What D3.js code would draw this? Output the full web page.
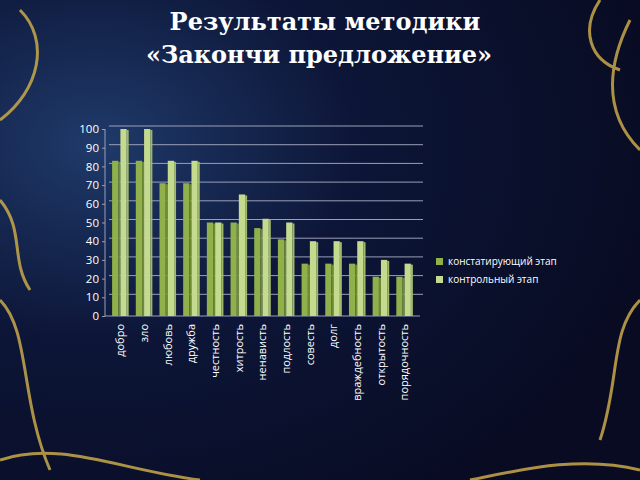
<!DOCTYPE html>
<html><head><meta charset="utf-8">
<script src="https://cdn.jsdelivr.net/npm/d3@7"></script>
<style>body{margin:0;background:#0b1030}</style>
</head><body>
<script>
const categories = ["добро","зло","любовь","дружба","честность","хитрость","ненависть","подлость","совесть","долг","враждебность","открытость","порядочность"];
const stage1 = [83,83,71,71,50,50,47,41,28,28,28,21,21];
const stage2 = [100,100,83,83,50,65,52,50,40,40,40,30,28];
const seriesNames = ["констатирующий этап","контрольный этап"];
const yTicks = [0,10,20,30,40,50,60,70,80,90,100];

const W = 640, H = 480;
const svg = d3.select("body").append("svg").attr("width", W).attr("height", H);
const defs = svg.append("defs");
const bg = defs.append("radialGradient").attr("id","bg").attr("cx","0.15").attr("cy","0.3").attr("r","0.9");
bg.append("stop").attr("offset","0").attr("stop-color","#1f3a6a");
bg.append("stop").attr("offset","0.45").attr("stop-color","#0d1638");
bg.append("stop").attr("offset","1").attr("stop-color","#080b22");
svg.append("rect").attr("width",W).attr("height",H).attr("fill","url(#bg)");

// gold ornaments (rough)
const gold = svg.append("g").attr("fill","none").attr("stroke","#c9a94a").attr("stroke-width",3).attr("opacity",0.85);
gold.append("path").attr("d","M0,120 C40,90 50,40 20,10 M0,300 C30,330 20,400 50,470 M0,200 C25,230 10,260 30,290");
gold.append("path").attr("d","M640,150 C600,110 610,60 630,20 M640,300 C610,330 620,380 600,440 M600,0 C580,30 590,60 620,70");
gold.append("path").attr("d","M0,460 C60,440 120,470 200,480 M640,470 C580,455 520,470 470,480");

svg.append("text").attr("x",325).attr("y",30).attr("text-anchor","middle")
  .attr("font-family","DejaVu Serif").attr("font-weight","bold").attr("font-size",24).attr("fill","#fff")
  .text("Результаты методики");
svg.append("text").attr("x",319).attr("y",63).attr("text-anchor","middle")
  .attr("font-family","DejaVu Serif").attr("font-weight","bold").attr("font-size",24).attr("fill","#fff")
  .text("«Закончи предложение»");

const x0 = 105, x1 = 420;
const x = d3.scaleBand().domain(categories).range([x0, x1]).paddingInner(0.3).paddingOuter(0.3);
const y = d3.scaleLinear().domain([0,100]).range([316,129]);

const grid = svg.append("g");
grid.selectAll("line").data(yTicks.slice(1)).join("line")
  .attr("x1",x0+4).attr("x2",x1+3).attr("y1",d=>y(d)-3).attr("y2",d=>y(d)-3)
  .attr("stroke","#9a9fb8").attr("stroke-width",1);
svg.append("line").attr("x1",x0).attr("x2",x1).attr("y1",y(0)).attr("y2",y(0)).attr("stroke","#9a9fb8");
svg.append("line").attr("x1",x0).attr("x2",x0).attr("y1",y(100)).attr("y2",y(0)).attr("stroke","#9a9fb8");

const yAxis = d3.axisLeft(y).tickValues(yTicks).tickSize(3);
const ya = svg.append("g").attr("transform",`translate(${x0},0)`).call(yAxis);
ya.select(".domain").remove();
ya.selectAll("line").attr("stroke","#9a9fb8");
ya.selectAll("text").attr("fill","#fff").attr("font-family","Open Sans").attr("font-size",11.5);

const colors = ["#8fb04a","#c4da8e"];
const sides = ["#6f8c32","#9fb86a"];
const bw = x.bandwidth()/2;
[stage1, stage2].forEach((vals, s) => {
  const g = svg.append("g");
  g.selectAll("rect.f").data(vals).join("rect")
    .attr("x",(d,i)=>x(categories[i])+s*bw).attr("y",d=>y(d)).attr("width",bw-2).attr("height",d=>y(0)-y(d))
    .attr("fill",colors[s]);
  g.selectAll("rect.s").data(vals).join("rect")
    .attr("x",(d,i)=>x(categories[i])+s*bw+bw-2).attr("y",d=>y(d)+1).attr("width",2).attr("height",d=>y(0)-y(d)-1)
    .attr("fill",sides[s]);
});

const xa = svg.append("g").attr("transform",`translate(0,${y(0)})`).call(d3.axisBottom(x).tickSize(0));
xa.select(".domain").remove();
xa.selectAll("text").attr("fill","#fff").attr("font-family","Open Sans").attr("font-size",11)
  .attr("transform","rotate(-90)").attr("text-anchor","end").attr("dx","-8").attr("dy","0.35em")
  .attr("x",0).attr("y",0);

const lg = svg.append("g").attr("transform","translate(436,262)");
seriesNames.forEach((n,i)=>{
  lg.append("rect").attr("x",0).attr("y",i*18-4).attr("width",7).attr("height",7).attr("fill",colors[i]);
  lg.append("text").attr("x",12).attr("y",i*18+3).attr("fill","#fff").attr("font-family","Open Sans").attr("font-size",10).text(n);
});
</script>
</body></html>
